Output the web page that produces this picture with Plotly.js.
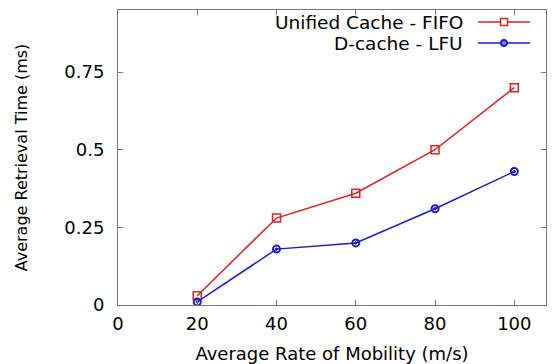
<!DOCTYPE html>
<html>
<head>
<meta charset="utf-8">
<script src="https://cdn.plot.ly/plotly-3.0.1.min.js"></script>
<style>html,body{margin:0;padding:0;background:#fff;}#chart{width:556px;height:364px;}</style>
</head>
<body>
<div id="chart"></div>
<script>
var mobility = [20, 40, 60, 80, 100];
var fifoTime = [0.03, 0.28, 0.36, 0.50, 0.70];
var lfuTime = [0.01, 0.18, 0.20, 0.31, 0.43];
var seriesNames = ["Unified Cache - FIFO", "D-cache - LFU"];
var xTickVals = [0, 20, 40, 60, 80, 100];
var yTickVals = [0, 0.25, 0.5, 0.75];
var yTickText = ["0", "0.25", "0.5", "0.75"];

var red = "#dd2222", blue = "#1c1cc8";
var FONT = "DejaVu Sans, sans-serif";

var traces = [
  {x: mobility, y: fifoTime, name: seriesNames[0], mode: "lines+markers", type: "scatter",
   line: {color: red, width: 1.5},
   marker: {symbol: "square-open", size: 8, color: red, line: {color: red, width: 1.5}}},
  {x: mobility, y: lfuTime, name: seriesNames[1], mode: "lines+markers", type: "scatter",
   line: {color: blue, width: 1.5},
   marker: {symbol: "circle-open-dot", size: 7, color: blue, line: {color: blue, width: 2}}}
];

// custom legend: text right-aligned, sample on the right
var legendRows = [0.959, 0.888];
var colors = [red, blue];
var annotations = [], shapes = [];
for (var i = 0; i < 2; i++) {
  annotations.push({xref: "paper", yref: "paper", x: 0.811, y: legendRows[i], xanchor: "right", yanchor: "middle",
    text: seriesNames[i], showarrow: false, font: {family: FONT, size: 18.5, color: "#000"}});
  shapes.push({type: "line", xref: "paper", yref: "paper", x0: 0.841, x1: 0.963, y0: legendRows[i], y1: legendRows[i],
    line: {color: colors[i], width: 1.5}});
}
shapes.push({type: "rect", xref: "paper", yref: "paper", xsizemode: "pixel", ysizemode: "pixel",
  xanchor: 0.902, yanchor: legendRows[0], x0: -3.5, x1: 3.5, y0: -3.5, y1: 3.5,
  fillcolor: "#fff", line: {color: red, width: 1.5}});
shapes.push({type: "circle", xref: "paper", yref: "paper", xsizemode: "pixel", ysizemode: "pixel",
  xanchor: 0.902, yanchor: legendRows[1], x0: -3, x1: 3, y0: -3, y1: 3,
  fillcolor: "#8080ff", line: {color: blue, width: 2}});

var layout = {
  width: 556, height: 364,
  margin: {l: 118, r: 10, t: 10, b: 59},
  paper_bgcolor: "#fff", plot_bgcolor: "#fff",
  showlegend: false,
  font: {family: FONT, size: 18, color: "#000"},
  xaxis: {range: [0, 108], tickvals: xTickVals, ticks: "inside", ticklen: 5, tickcolor: "#777",
    showline: true, linecolor: "#777", linewidth: 1, mirror: "ticks", showgrid: false, zeroline: false,
    tickfont: {family: FONT, size: 18}, ticklabelstandoff: 2,
    title: {text: "Average Rate of Mobility (m/s)", font: {family: FONT, size: 18}, standoff: 14}},
  yaxis: {range: [0, 0.95], tickvals: yTickVals, ticktext: yTickText, ticks: "inside", ticklen: 5, tickcolor: "#777",
    showline: true, linecolor: "#777", linewidth: 1, mirror: "ticks", showgrid: false, zeroline: false,
    tickfont: {family: FONT, size: 18}, ticklabelstandoff: 9,
    title: {text: "Average Retrieval Time (ms)", font: {family: FONT, size: 16}, standoff: 32}},
  annotations: annotations,
  shapes: shapes
};
Plotly.newPlot("chart", traces, layout, {displayModeBar: false, staticPlot: true});
</script>
</body>
</html>
